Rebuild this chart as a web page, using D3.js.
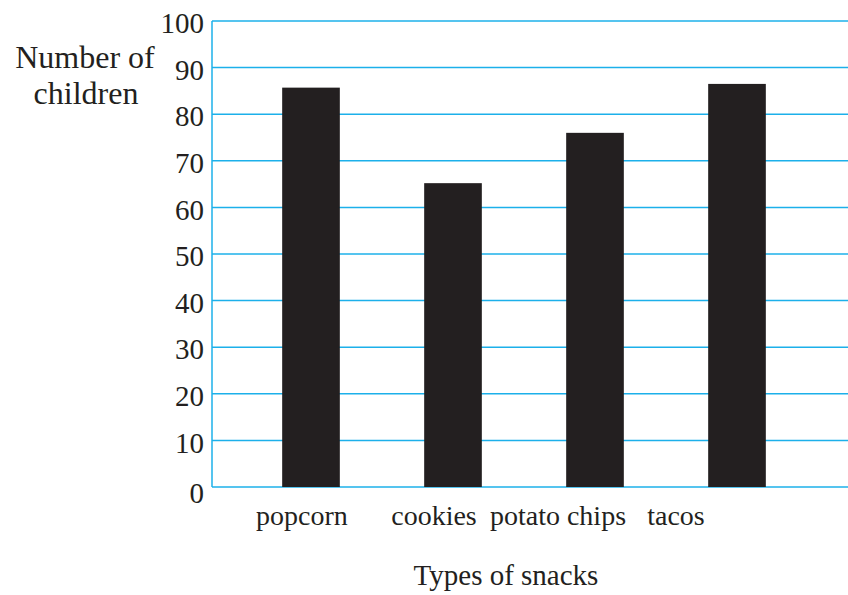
<!DOCTYPE html>
<html lang="en">
<head>
	<meta charset="utf-8">
	<title>snacks</title>
	<script src="https://d3js.org/d3.v7.js"></script>
	<style type="text/css">
		body { margin: 0; background: #ffffff; }
		text { font-family: "Liberation Serif", "DejaVu Serif", serif; fill: #231f20; }
	</style>
</head>
<body>
<div id="my_dataviz"></div>
<script>
// data
const snacks = ['popcorn', 'cookies', 'potato chips', 'tacos'];
const children = [85.7, 65.2, 76, 86.5];
const yTicks = [0, 10, 20, 30, 40, 50, 60, 70, 80, 90, 100];

const W = 848, H = 595;
const GRID = '#1cb0ea';
const BAR = '#231f20';

const svg = d3.select("#my_dataviz")
	.append("svg")
	.attr("width", W)
	.attr("height", H);

// plot area
const plotL = 212, plotR = 848, plotT = 21, plotB = 487;

const y = d3.scaleLinear()
	.domain([0, 100])
	.range([plotB, plotT]);

const x = d3.scaleBand()
	.domain(snacks)
	.range([240, 808])
	.paddingInner(0.594)
	.paddingOuter(0.297);

// gridlines
svg.append("g")
	.selectAll("line")
	.data(yTicks)
	.join("line")
	.attr("x1", plotL)
	.attr("x2", plotR)
	.attr("y1", d => y(d))
	.attr("y2", d => y(d))
	.attr("stroke", GRID)
	.attr("stroke-width", 1.5);

// left axis line
svg.append("line")
	.attr("x1", plotL).attr("x2", plotL)
	.attr("y1", y(100)).attr("y2", y(0))
	.attr("stroke", GRID)
	.attr("stroke-width", 1.5);

// y tick labels
svg.append("g")
	.selectAll("text")
	.data(yTicks)
	.join("text")
	.attr("x", plotL - 8)
	.attr("y", d => y(d) + (d === 0 ? 6 : 2))
	.attr("dy", "0.35em")
	.attr("text-anchor", "end")
	.style("font-size", "29px")
	.text(d => d);

// bars
svg.append("g")
	.selectAll("rect")
	.data(snacks)
	.join("rect")
	.attr("x", d => x(d))
	.attr("width", x.bandwidth())
	.attr("y", (d, i) => y(children[i]))
	.attr("height", (d, i) => y(0) - y(children[i]))
	.attr("fill", BAR);

// category labels are set a little left of the bars in the original
const labelShift = [-9, -19, -37, -61];
svg.append("g")
	.selectAll("text")
	.data(snacks)
	.join("text")
	.attr("x", (d, i) => x(d) + x.bandwidth() / 2 + labelShift[i])
	.attr("y", 525)
	.attr("text-anchor", "middle")
	.style("font-size", "28px")
	.text(d => d);

// axis titles
svg.append("text")
	.attr("x", 506)
	.attr("y", 585)
	.attr("text-anchor", "middle")
	.style("font-size", "29px")
	.text("Types of snacks");

const yt = svg.append("text")
	.attr("x", 85)
	.attr("text-anchor", "middle")
	.style("font-size", "32px");
yt.append("tspan").attr("x", 85).attr("y", 68).text("Number of");
yt.append("tspan").attr("x", 86).attr("y", 104).text("children");
</script>
</body>
</html>
